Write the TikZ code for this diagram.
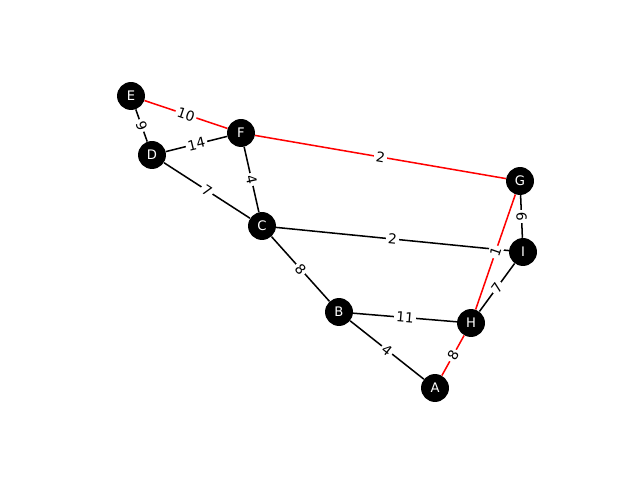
\documentclass[tikz,border=0pt]{standalone}
\usepackage{fontspec}
\setmainfont{DejaVu Sans}
\usepackage{tikz}
\usetikzlibrary{positioning}

\begin{document}
\begin{tikzpicture}[
    x=0.0254cm, y=-0.0254cm,
    vertex/.style={circle, fill=black, minimum size=7.1mm, inner sep=0pt, text=white, font=\fontsize{9.5}{10}\selectfont},
    edge/.style={line width=1.1pt, black},
    tree/.style={line width=1.1pt, red},
    weight/.style={fill=white, text=black, inner sep=1.5pt, sloped, font=\fontsize{10}{10}\selectfont}]
    \useasboundingbox (0,0) rectangle (640,480);
    \node[vertex] (E) at (131,96) {E};
    \node[vertex] (F) at (241,133) {F};
    \node[vertex] (D) at (152,155) {D};
    \node[vertex] (C) at (262,226) {C};
    \node[vertex] (G) at (520,181) {G};
    \node[vertex] (I) at (523,252) {I};
    \node[vertex] (B) at (339,312) {B};
    \node[vertex] (H) at (471,323) {H};
    \node[vertex] (A) at (435,388) {A};
    \draw[edge] (E) -- node[weight] {9} (D);
    \draw[edge] (D) -- node[weight] {14} (F);
    \draw[edge] (D) -- node[weight] {7} (C);
    \draw[edge] (F) -- node[weight] {4} (C);
    \draw[edge] (C) -- node[weight] {2} (I);
    \draw[edge] (C) -- node[weight] {8} (B);
    \draw[edge] (G) -- node[weight] {6} (I);
    \draw[edge] (I) -- node[weight] {7} (H);
    \draw[edge] (B) -- node[weight] {11} (H);
    \draw[edge] (B) -- node[weight] {4} (A);
    \draw[tree] (E) -- node[weight] {10} (F);
    \draw[tree] (F) -- node[weight] {2} (G);
    \draw[tree] (G) -- node[weight] {1} (H);
    \draw[tree] (H) -- node[weight] {8} (A);
\end{tikzpicture}
\end{document}
